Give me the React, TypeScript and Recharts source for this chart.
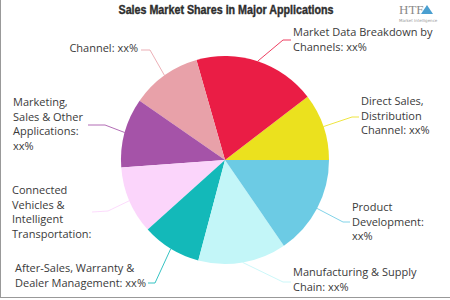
import { PieChart, Pie, Cell } from 'recharts';

const categories = [
  'Direct Sales,\nDistribution\nChannel: xx%',
  'Market Data Breakdown by\nChannels: xx%',
  'Channel: xx%',
  'Marketing,\nSales & Other\nApplications:\nxx%',
  'Connected\nVehicles &\nIntelligent\nTransportation:',
  'After-Sales, Warranty &\nDealer Management: xx%',
  'Manufacturing & Supply\nChain: xx%',
  'Product\nDevelopment:\nxx%',
];
const shares = [10.4, 19.0, 10.9, 10.8, 10.5, 9.2, 13.7, 15.4];
const colors = ['#ebe11e', '#ea1d45', '#e8a1a9', '#a553a8', '#fbd5fb', '#13b9b9', '#c3f6f8', '#6ccbe4'];

// label placement: text origin, anchor, bend point and end of the leader line
const labelLayout = [
  { x: 361, y: 101, anchor: 'start', bend: [352, 117], end: [359, 117] },
  { x: 293, y: 32, anchor: 'start', bend: [283, 40], end: [291, 40] },
  { x: 138, y: 48, anchor: 'end', bend: [150, 50], end: [141, 50] },
  { x: 13, y: 102, anchor: 'start', bend: [105, 125], end: [88, 125] },
  { x: 12, y: 190, anchor: 'start', bend: [108, 211], end: [92, 212] },
  { x: 15, y: 268, anchor: 'start', bend: [155, 283], end: [148, 283] },
  { x: 293, y: 272, anchor: 'start', bend: [283, 282], end: [291, 282] },
  { x: 352, y: 207, anchor: 'start', bend: [343, 222], end: [350, 222] },
];

const data = categories.map((name, i) => ({ name, value: shares[i] }));

const RAD = Math.PI / 180;
const LINE_H = 14.5;

function renderLabel(props: any) {
  const { cx, cy, midAngle, outerRadius, index } = props;
  const l = labelLayout[index];
  const sx = cx + outerRadius * Math.cos(-midAngle * RAD);
  const sy = cy + outerRadius * Math.sin(-midAngle * RAD);
  const lines = categories[index].split('\n');
  return (
    <g key={`lbl-${index}`}>
      <polyline
        points={`${sx},${sy} ${l.bend[0]},${l.bend[1]} ${l.end[0]},${l.end[1]}`}
        fill="none"
        stroke={colors[index]}
        strokeOpacity={0.85}
        strokeWidth={1}
      />
      <text
        x={l.x}
        y={l.y + 4}
        textAnchor={l.anchor}
        fill="#3a3a3a"
        fontSize={11}
        fontFamily="'Open Sans', sans-serif"
      >
        {lines.map((t, k) => (
          <tspan key={k} x={l.x} dy={k === 0 ? 0 : LINE_H}>
            {t}
          </tspan>
        ))}
      </text>
    </g>
  );
}

export default function App() {
  return (
    <div style={{ position: 'absolute', left: 0, top: 0, width: 450, height: 300, background: '#fff' }}>
      <PieChart width={450} height={300} margin={{ top: 0, right: 0, bottom: 0, left: 0 }}>
        <Pie
          data={data}
          dataKey="value"
          nameKey="name"
          cx={225}
          cy={160}
          outerRadius={104}
          startAngle={0}
          endAngle={360}
          stroke="none"
          label={renderLabel}
          labelLine={false}
          isAnimationActive={false}
        >
          {data.map((d, i) => (
            <Cell key={d.name} fill={colors[i]} />
          ))}
        </Pie>
      </PieChart>
      <svg width={450} height={300} style={{ position: 'absolute', left: 0, top: 0, pointerEvents: 'none' }}>
        <text
          x={226}
          y={14}
          textAnchor="middle"
          fill="#2e2e2e"
          stroke="#2e2e2e"
          strokeWidth={0.4}
          fontSize={13}
          fontWeight="bold"
          fontFamily="'Liberation Sans Narrow', 'Liberation Sans', sans-serif"
          textLength={215}
          lengthAdjust="spacingAndGlyphs"
        >
          Sales Market Shares in Major Applications
        </text>
        <text x={399} y={14} fill="#8a8a8a" fontSize={13} fontFamily="'Liberation Serif', serif">
          HTF
        </text>
        <path d="M427 5 L433 14 L421 14 Z" fill="#4a9fd0" />
        <text x={399} y={22} fill="#999" fontSize={4} fontFamily="'DejaVu Sans', sans-serif">
          Market Intelligence
        </text>
        <line x1={0.5} y1={0} x2={0.5} y2={298} stroke="#999" />
        <line x1={0} y1={297.5} x2={450} y2={297.5} stroke="#999" />
      </svg>
    </div>
  );
}
